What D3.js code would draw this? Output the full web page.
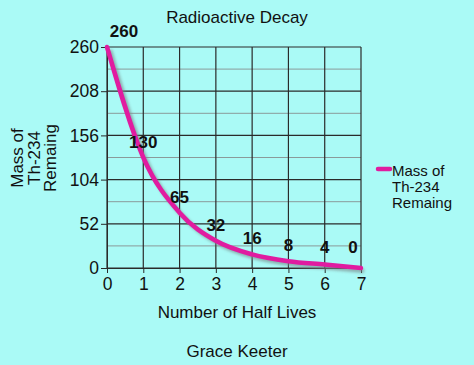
<!DOCTYPE html>
<html><head><meta charset="utf-8">
<script src="https://cdn.jsdelivr.net/npm/d3@7"></script>
<style>html,body{margin:0;padding:0;background:#aafaf6;}svg{display:block;}</style>
</head><body>
<script>
const halfLives = [0,1,2,3,4,5,6,7];
const mass = [260,130,65,32,16,8,4,0];
const labels = ["260","130","65","32","16","8","4","0"];
const yTicks = [0,52,104,156,208,260];
const minorTicks = [26,78,130,182,234];
const title = "Radioactive Decay";
const xTitle = "Number of Half Lives";
const yTitle = ["Mass of","Th-234","Remaing"];
const legendLines = ["Mass of","Th-234","Remaing"];
const footer = "Grace Keeter";

const W=474,H=365;
const L=107,R=361,T=47,B=268;
const FF="'Liberation Sans',Arial,sans-serif";
const svg=d3.select("body").append("svg").attr("width",W).attr("height",H)
  .style("font-family",FF);
svg.append("rect").attr("width",W).attr("height",H).attr("fill","#aafaf6");
const x=d3.scaleLinear().domain([0,7]).range([L,R]);
const y=d3.scaleLinear().domain([0,260]).range([B,T]);
const defs=svg.append("defs");
defs.append("filter").attr("id","blur").append("feGaussianBlur").attr("stdDeviation",1.5);

// minor grid
svg.append("g").selectAll("line").data(minorTicks).join("line")
  .attr("x1",L).attr("x2",R).attr("y1",d=>y(d)).attr("y2",d=>y(d))
  .attr("stroke","#8a9a9a").attr("stroke-width",1);
// major horizontal grid
svg.append("g").selectAll("line").data(yTicks).join("line")
  .attr("x1",L).attr("x2",R).attr("y1",d=>y(d)).attr("y2",d=>y(d))
  .attr("stroke","#2a2a2a").attr("stroke-width",1.2);
// vertical grid
svg.append("g").selectAll("line").data(halfLives).join("line")
  .attr("x1",d=>x(d)).attr("x2",d=>x(d)).attr("y1",T).attr("y2",B)
  .attr("stroke","#2a2a2a").attr("stroke-width",1.2);

// axes
const yAxis=svg.append("g").attr("transform",`translate(${L},0)`)
  .call(d3.axisLeft(y).tickValues(yTicks).tickSize(6).tickPadding(2));
yAxis.select(".domain").attr("stroke","#2a2a2a");
yAxis.selectAll(".tick line").attr("stroke","#2a2a2a");
yAxis.selectAll("text").attr("font-size",17.5).attr("fill","#111").style("font-family",FF);
const xAxis=svg.append("g").attr("transform",`translate(0,${B})`)
  .call(d3.axisBottom(x).tickValues(halfLives).tickFormat(d3.format("d")).tickSize(5).tickPadding(5));
xAxis.select(".domain").attr("stroke","#2a2a2a");
xAxis.selectAll(".tick line").attr("stroke","#2a2a2a");
xAxis.selectAll("text").attr("font-size",17.5).attr("fill","#111").style("font-family",FF);

// line
const pts=halfLives.map((h,i)=>[h,mass[i]]);
const lineGen=d3.line().x(d=>x(d[0])).y(d=>y(d[1])).curve(d3.curveMonotoneX);
svg.append("path").attr("d",lineGen(pts)).attr("fill","none").attr("stroke","#7a8a8a")
  .attr("stroke-width",4).attr("transform","translate(3,3)").attr("filter","url(#blur)").attr("opacity",0.7);
svg.append("path").attr("d",lineGen(pts)).attr("fill","none").attr("stroke","#e01ca0")
  .attr("stroke-width",4.5).attr("stroke-linecap","round").attr("stroke-linejoin","round");

// data labels
svg.append("g").selectAll("text").data(pts).join("text")
  .attr("x",(d,i)=>Math.max(L+17,Math.min(R-8,x(d[0]))))
  .attr("y",d=>Math.min(y(d[1])-10,253))
  .attr("text-anchor","middle").attr("font-size",17).attr("font-weight","bold").attr("fill","#111")
  .text((d,i)=>labels[i]);

// titles
svg.append("text").attr("x",237).attr("y",23).attr("text-anchor","middle").attr("font-size",17).attr("fill","#111").text(title);
svg.append("text").attr("x",237).attr("y",318).attr("text-anchor","middle").attr("font-size",17).attr("fill","#111").text(xTitle);
svg.append("text").attr("x",237).attr("y",357).attr("text-anchor","middle").attr("font-size",17).attr("fill","#111").text(footer);
const yt=svg.append("text").attr("transform","translate(23,158) rotate(-90)").attr("text-anchor","middle").attr("font-size",17).attr("fill","#111");
yTitle.forEach((t,i)=>yt.append("tspan").attr("x",0).attr("dy",i===0?0:16.5).text(t));

// legend
svg.append("line").attr("x1",378).attr("x2",390).attr("y1",169).attr("y2",169)
  .attr("stroke","#e01ca0").attr("stroke-width",4.5).attr("stroke-linecap","round");
legendLines.forEach((t,i)=>svg.append("text").attr("x",392).attr("y",176+i*16).attr("font-size",15).attr("fill","#111").text(t));
</script>
</body></html>
